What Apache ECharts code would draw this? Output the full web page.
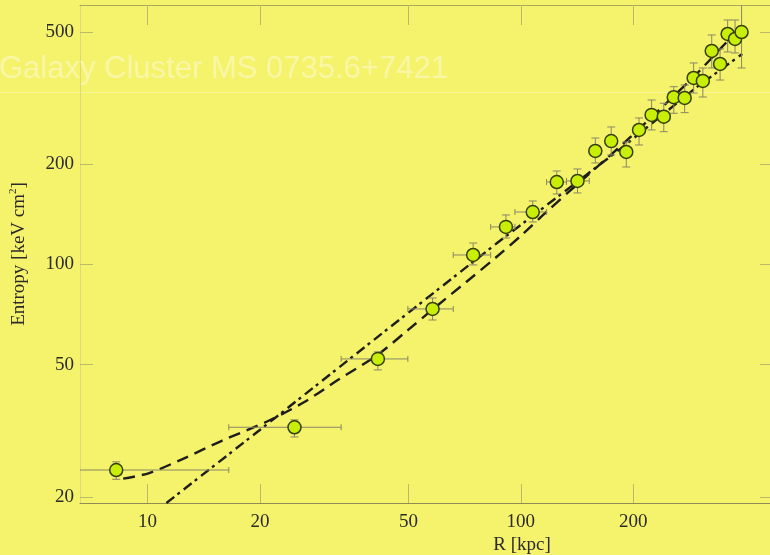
<!DOCTYPE html>
<html>
<head>
<meta charset="utf-8">
<script src="https://cdn.jsdelivr.net/npm/echarts@6/dist/echarts.min.js"></script>
<style>
  html, body { margin: 0; padding: 0; background: #f5f26c; }
  #chart { width: 770px; height: 555px; }
</style>
</head>
<body>
<div id="chart"></div>
<script>
// Axis ranges and tick labels (kpc, keV cm^2)
const radiusRange = [6.59, 465];
const entropyRange = [19.18, 602.8];
const radiusTicks = [10, 20, 50, 100, 200];
const entropyTicks = [20, 50, 100, 200, 500];

// Measured entropy profile
const radius  = [8.24, 24.75, 41.4, 58.0, 74.5, 91.2, 107.6, 124.8, 141.8, 158.3, 174.6, 191.6,
                 207.3, 224.0, 241.5, 256.8, 274.7, 290.3, 307.3, 324.6, 341.8, 358.1, 374.8, 390.2];
const entropy = [24.1, 32.4, 52.0, 73.5, 106.8, 129.7, 143.8, 177.0, 178.3, 219.4, 235.0, 217.9,
                 253.8, 281.6, 278.2, 318.3, 316.7, 363.7, 356.2, 438.5, 400.8, 493.3, 476.4, 500.0];
// Radial bin edges (null where the bin is hidden by the marker)
const radiusLo = [5.0, 16.5, 33.0, 49.8, 65.9, 83.0, 96.4, 117.2, 132.5,
                  null, null, null, null, null, null, null, null, null, null, null, null, null, null, null];
const radiusHi = [16.5, 33.0, 49.8, 65.9, 83.0, 96.4, 117.2, 132.5, 152.5,
                  null, null, null, null, null, null, null, null, null, null, null, null, null, null, null];
// Entropy uncertainty ranges
const entropyLo = [22.6, 30.3, 48.2, 68.1, 99.7, 120.1, 134.2, 162.9, 164.1, 202.0, 213.4, 196.4,
                   228.7, 253.8, 250.8, 284.9, 286.1, 327.8, 318.8, 389.8, 358.6, 435.5, 432.5, 389.8];
const entropyHi = [25.5, 34.1, 54.6, 79.3, 116.0, 140.9, 155.2, 191.0, 193.7, 240.0, 259.1, 233.5,
                   275.7, 312.3, 305.3, 342.4, 346.5, 403.6, 389.8, 489.9, 444.6, 543.4, 543.4, 640.0];

// Model with a central floor (dashed)
const floorFitR = [8.6, 10.1, 12.4, 15.8, 21.1, 26.3, 32.4, 41.4, 49.8, 59.1, 71.4, 85.3,
                   100.6, 118, 139, 162, 189, 220, 257, 299, 342, 389];
const floorFitK = [22.7, 23.6, 26.0, 29.5, 33.9, 38.6, 45.0, 53.6, 63.5, 74.5, 88.6, 104.5,
                   122.7, 145.0, 171, 199, 232, 272, 321, 379, 445, 518];
// Pure power-law model (dash-dot)
const powerFitR = [11.23, 19.98, 42.95, 86.35, 189.1, 293.8, 391.8];
const powerFitK = [19.18, 31.8, 62.66, 116.0, 227.1, 339.4, 429.6];

const lg = Math.log10;
const toPairs = (xs, ys) => xs.map((x, i) => [lg(x), lg(ys[i])]);
const fmt = v => String(Math.round(Math.pow(10, v)));

const textColor = '#2b2b2b';
const serif = "'Liberation Serif', 'DejaVu Serif', serif";

const chart = echarts.init(document.getElementById('chart'), null, { renderer: 'canvas' });

function axisX(position, opts) {
  return Object.assign({
    type: 'value',
    position: position,
    min: lg(radiusRange[0]),
    max: lg(radiusRange[1]),
    splitLine: { show: false },
    axisLine: { show: true, onZero: false, lineStyle: { color: '#8f8b52', width: 1 } },
    axisTick: { show: true, inside: true, length: 19, customValues: radiusTicks.map(lg),
                lineStyle: { color: '#bdb96c', width: 1 } },
    axisLabel: { show: false }
  }, opts);
}
function axisY(position, opts) {
  return Object.assign({
    type: 'value',
    position: position,
    min: lg(entropyRange[0]),
    max: lg(entropyRange[1]),
    splitLine: { show: false },
    axisLine: { show: true, onZero: false, lineStyle: { color: '#dcd87e', width: 1 } },
    axisTick: { show: true, inside: true, length: 13, customValues: entropyTicks.map(lg),
                lineStyle: { color: '#bdb96c', width: 1 } },
    axisLabel: { show: false }
  }, opts);
}

const option = {
  backgroundColor: '#f5f26c',
  animation: false,
  title: {
    text: 'Galaxy Cluster MS 0735.6+7421',
    left: -1,
    top: 54,
    padding: 0,
    textStyle: {
      color: 'rgba(255,255,255,0.4)',
      fontFamily: "'Liberation Sans', Arial, sans-serif",
      fontSize: 31,
      fontWeight: 'normal'
    }
  },
  grid: { left: 77, top: 5, width: 695, height: 498, containLabel: false },
  xAxis: [
    axisX('bottom', {
      axisLabel: {
        show: true, customValues: radiusTicks.map(lg), formatter: fmt, margin: 10,
        fontFamily: serif, fontSize: 19, color: textColor
      }
    }),
    axisX('top', {
      axisLine: { show: true, onZero: false, lineStyle: { color: '#aca85f', width: 1 } },
      axisTick: { show: true, inside: true, length: 20, customValues: radiusTicks.map(lg),
                  lineStyle: { color: '#bdb96c', width: 1 } }
    })
  ],
  yAxis: [
    axisY('left', {
      name: '{a|Entropy [keV cm}{s|2}{a|]}',
      nameLocation: 'middle',
      nameGap: 50,
      nameTextStyle: {
        rich: {
          a: { fontFamily: serif, fontSize: 19, color: textColor },
          s: { fontFamily: serif, fontSize: 11, color: textColor, verticalAlign: 'top', lineHeight: 22 }
        }
      },
      axisLabel: {
        show: true, customValues: entropyTicks.map(lg), formatter: fmt, margin: 6,
        fontFamily: serif, fontSize: 19, color: textColor
      }
    }),
    axisY('right', {
      axisLine: { show: false },
      axisTick: { show: true, inside: true, length: 10, customValues: entropyTicks.map(lg),
                  lineStyle: { color: '#bdb96c', width: 1 } }
    })
  ],
  graphic: [
    {
      type: 'line', silent: true, z: 0,
      shape: { x1: 0, y1: 92.5, x2: 770, y2: 92.5 },
      style: { stroke: 'rgba(255,255,255,0.3)', lineWidth: 1 }
    },
    {
      type: 'text', silent: true,
      x: 522, y: 545,
      style: {
        text: 'R [kpc]', fill: textColor, font: "19px 'Liberation Serif', serif",
        textAlign: 'center', textVerticalAlign: 'middle'
      }
    }
  ],
  series: [
    {
      name: 'power law',
      type: 'line',
      data: toPairs(powerFitR, powerFitK),
      showSymbol: false,
      smooth: false,
      clip: true,
      z: 2,
      lineStyle: { color: '#1e1e1e', width: 2.4, type: [10, 4, 3, 5] }
    },
    {
      name: 'floor model',
      type: 'line',
      data: toPairs(floorFitR, floorFitK),
      showSymbol: false,
      smooth: 0.3,
      clip: true,
      z: 2,
      lineStyle: { color: '#1e1e1e', width: 2.4, type: [12, 7] }
    },
    {
      name: 'errors',
      type: 'custom',
      z: 3,
      data: toPairs(radius, entropy),
      encode: { x: 0, y: 1 },
      renderItem: function (params, api) {
        const i = params.dataIndex;
        const cs = params.coordSys;
        const cx = v => Math.max(cs.x, Math.min(cs.x + cs.width, v));
        const cy = v => Math.max(cs.y, Math.min(cs.y + cs.height, v));
        const style = { stroke: '#8a8766', lineWidth: 1, fill: null };
        const lx = lg(radius[i]);
        const ly = lg(entropy[i]);
        const kids = [];
        const cap = 4;
        const top = api.coord([lx, lg(entropyHi[i])]);
        const bot = api.coord([lx, lg(entropyLo[i])]);
        const t = cy(top[1]), b = cy(bot[1]);
        kids.push({ type: 'line', shape: { x1: top[0], y1: t, x2: bot[0], y2: b }, style: style });
        if (top[1] >= cs.y) kids.push({ type: 'line', shape: { x1: top[0] - cap, y1: t, x2: top[0] + cap, y2: t }, style: style });
        if (bot[1] <= cs.y + cs.height) kids.push({ type: 'line', shape: { x1: bot[0] - cap, y1: b, x2: bot[0] + cap, y2: b }, style: style });
        if (radiusLo[i] != null && radiusHi[i] != null) {
          const l = api.coord([lg(radiusLo[i]), ly]);
          const r = api.coord([lg(radiusHi[i]), ly]);
          const L = cx(l[0]), R = cx(r[0]);
          kids.push({ type: 'line', shape: { x1: L, y1: l[1], x2: R, y2: r[1] }, style: style });
          if (l[0] >= cs.x) kids.push({ type: 'line', shape: { x1: L, y1: l[1] - 3, x2: L, y2: l[1] + 3 }, style: style });
          kids.push({ type: 'line', shape: { x1: R, y1: r[1] - 3, x2: R, y2: r[1] + 3 }, style: style });
        }
        return { type: 'group', children: kids };
      }
    },
    {
      name: 'entropy',
      type: 'scatter',
      z: 4,
      data: toPairs(radius, entropy),
      symbol: 'circle',
      symbolSize: 13,
      itemStyle: { color: '#c9ef08', borderColor: '#34400c', borderWidth: 1.5, opacity: 1 }
    }
  ]
};

chart.setOption(option);
</script>
</body>
</html>
